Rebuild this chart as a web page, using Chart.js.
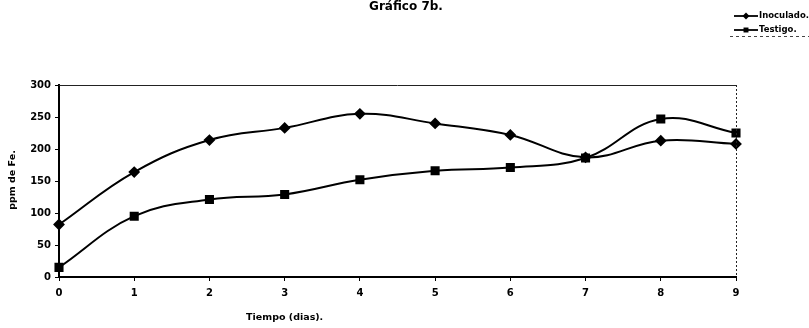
<!DOCTYPE html>
<html>
<head>
<meta charset="utf-8">
<script src="https://cdn.jsdelivr.net/npm/chart.js@4"></script>
<style>
  html, body { margin: 0; padding: 0; background: #fff; }
  #wrap { position: relative; width: 809px; height: 328px; }
</style>
</head>
<body>
<div id="wrap"><canvas id="chart" width="809" height="328"></canvas></div>
<script>
const days = ['0', '1', '2', '3', '4', '5', '6', '7', '8', '9'];
const inoculado = [82, 164, 214, 233, 255, 240, 222, 187, 213, 208];
const testigo = [15, 95, 121, 129, 152, 166, 171, 186, 247, 225];
const yTicks = [0, 50, 100, 150, 200, 250, 300];

const FONT = 'DejaVu Sans';

// title, legend, axis titles and the plot frame
const extras = {
  id: 'extras',
  afterDraw(chart) {
    const ctx = chart.ctx;
    const area = chart.chartArea;
    ctx.save();

    // frame: top solid, right dotted
    ctx.strokeStyle = '#222';
    ctx.lineWidth = 1;
    ctx.beginPath();
    ctx.moveTo(area.left, area.top + 0.5);
    ctx.lineTo(area.right, area.top + 0.5);
    ctx.stroke();
    ctx.setLineDash([2, 2]);
    ctx.beginPath();
    ctx.moveTo(area.right + 0.5, area.top);
    ctx.lineTo(area.right + 0.5, area.bottom);
    ctx.stroke();
    ctx.setLineDash([]);

    ctx.fillStyle = '#000';
    ctx.textBaseline = 'middle';

    // title
    ctx.font = 'bold 12px ' + FONT;
    ctx.textAlign = 'center';
    ctx.fillText('Gráfico 7b.', 406, 7);

    // x axis title
    ctx.font = 'bold 9.5px ' + FONT;
    const xs = chart.scales.x;
    ctx.fillText('Tiempo (dias).', xs.getPixelForValue(3), 318);

    // y axis title
    ctx.save();
    ctx.translate(13, 180);
    ctx.rotate(-Math.PI / 2);
    ctx.fillText('ppm de Fe.', 0, 0);
    ctx.restore();

    // legend
    ctx.strokeStyle = '#444';
    ctx.setLineDash([3, 3]);
    ctx.beginPath();
    ctx.moveTo(730, 36.5);
    ctx.lineTo(809, 36.5);
    ctx.stroke();
    ctx.setLineDash([]);

    const items = [
      { text: 'Inoculado.', y: 16, style: 'rectRot', r: 3.5 },
      { text: 'Testigo.', y: 30, style: 'rect', r: 3.5 }
    ];
    ctx.textAlign = 'left';
    ctx.font = 'bold 8.5px ' + FONT;
    items.forEach(it => {
      ctx.strokeStyle = '#000';
      ctx.lineWidth = 1.8;
      ctx.beginPath();
      ctx.moveTo(734, it.y);
      ctx.lineTo(758, it.y);
      ctx.stroke();
      ctx.fillStyle = '#000';
      Chart.helpers.drawPoint(ctx, { pointStyle: it.style, radius: it.r, borderWidth: 0 }, 746, it.y);
      ctx.fillText(it.text, 759, it.y);
    });

    ctx.restore();
  }
};

new Chart(document.getElementById('chart'), {
  type: 'line',
  data: {
    labels: days,
    datasets: [
      {
        label: 'Inoculado.',
        data: inoculado,
        borderColor: '#000',
        backgroundColor: '#000',
        borderWidth: 2,
        pointStyle: 'rectRot',
        pointRadius: 4.5,
        tension: 0.4
      },
      {
        label: 'Testigo.',
        data: testigo,
        borderColor: '#000',
        backgroundColor: '#000',
        borderWidth: 2,
        pointStyle: 'rect',
        pointRadius: 5,
        tension: 0.4
      }
    ]
  },
  options: {
    responsive: false,
    animation: false,
    layout: { padding: { top: 85, right: 73, left: 0, bottom: 0 } },
    plugins: {
      legend: { display: false },
      tooltip: { enabled: false }
    },
    scales: {
      x: {
        offset: false,
        grid: { drawOnChartArea: false, drawTicks: true, tickLength: 4, color: '#000' },
        border: { color: '#000', width: 2 },
        ticks: { color: '#000', font: { family: FONT, size: 10, weight: 'bold' }, padding: 6, maxRotation: 0 },
        afterFit(scale) { scale.height = 51; }
      },
      y: {
        min: 0,
        max: 300,
        afterBuildTicks(scale) { scale.ticks = yTicks.map(v => ({ value: v })); },
        grid: { drawOnChartArea: false, drawTicks: true, tickLength: 4, color: '#000' },
        border: { color: '#000', width: 2 },
        ticks: { color: '#000', font: { family: FONT, size: 10, weight: 'bold' }, padding: 4 },
        afterFit(scale) { scale.width = 59; }
      }
    }
  },
  plugins: [extras]
});
</script>
</body>
</html>
